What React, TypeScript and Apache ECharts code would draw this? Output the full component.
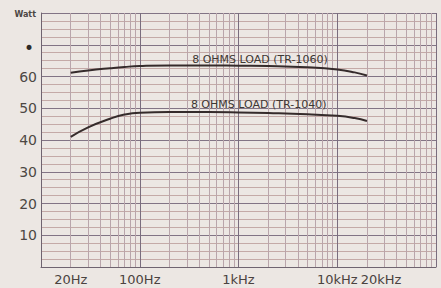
import React, { useEffect, useRef } from "react";
import * as echarts from "echarts";

// Frequency points (Hz) at which the curves were read
const freqs = [20, 30, 50, 70, 100, 200, 500, 1000, 2000, 5000, 10000, 15000, 20000];
// Output power (W) – upper curve
const tr1060 = [61.2, 61.9, 62.6, 63.0, 63.3, 63.5, 63.5, 63.4, 63.3, 62.9, 62.2, 61.3, 60.3];
// Output power (W) – lower curve
const tr1040 = [41.0, 44.0, 46.7, 48.0, 48.6, 48.8, 48.8, 48.7, 48.5, 48.1, 47.6, 46.9, 46.0];

const seriesNames = ["8 OHMS LOAD (TR-1060)", "8 OHMS LOAD (TR-1040)"];

// Log-grid lines (Hz)
const decadeLines = [100, 1000, 10000, 100000];
const minorMultipliers = [2, 3, 4, 5, 6, 7, 8, 9];
const decadeStarts = [10, 100, 1000, 10000];

// X tick labels
const xTickValues = [20, 100, 1000, 10000, 20000];
const xTickLabels = ["20Hz", "100Hz", "1kHz", "10kHz", "20kHz"];

// Y tick labels
const yTickLabels: Record<number, string> = {
  10: "10", 20: "20", 30: "30", 40: "40", 50: "50", 60: "60", 70: "•", 80: "Watt",
};

// label anchors for the curve captions [freq, watts]
const captionAnchors: [number, number][] = [
  [1650, 65.2],
  [1600, 51.3],
];

export default function App() {
  const ref = useRef<HTMLDivElement>(null);

  useEffect(() => {
    if (!ref.current) return;
    const chart = echarts.init(ref.current, undefined, { renderer: "svg" });

    const gridFreqs: number[] = [];
    decadeStarts.forEach((d) => minorMultipliers.forEach((m) => gridFreqs.push(d * m)));

    const lineData: any[] = [];
    gridFreqs.forEach((f) => {
      const idx = xTickValues.indexOf(f);
      lineData.push({
        xAxis: f,
        lineStyle: { color: "#b9a5ab", width: 1, type: "solid" },
        label: idx >= 0 ? { show: true, formatter: xTickLabels[idx], offset: f === 20000 ? [14, 0] : [0, 0] } : { show: false },
      });
    });
    decadeLines.forEach((f) => {
      const idx = xTickValues.indexOf(f);
      lineData.push({
        xAxis: f,
        lineStyle: { color: "#7a6d7e", width: 1, type: "solid" },
        label: idx >= 0 ? { show: true, formatter: xTickLabels[idx] } : { show: false },
      });
    });

    const textColor = "#3e3834";
    const font = "DejaVu Sans";

    chart.setOption({
      animation: false,
      backgroundColor: "#ece7e3",
      grid: { left: 41, right: 5, top: 13, bottom: 21, containLabel: false },
      xAxis: {
        type: "log",
        logBase: 10,
        min: 10,
        max: 100000,
        axisLine: { show: true, lineStyle: { color: "#6f6470", width: 1 } },
        axisTick: { show: false },
        axisLabel: { show: false },
        splitLine: { show: false },
      },
      yAxis: {
        type: "value",
        min: 0,
        max: 80,
        interval: 10,
        axisLine: { show: true, lineStyle: { color: "#6f6470", width: 1 } },
        axisTick: { show: false },
        axisLabel: {
          show: true,
          margin: 4,
          color: "#4d4744",
          fontSize: 14,
          fontFamily: font,
          formatter: (v: number) => {
            if (v === 80) return "{w|Watt}";
            if (v === 70) return "{d|•}";
            return yTickLabels[v] ?? "";
          },
          rich: {
            w: { fontSize: 8, fontWeight: "bold", color: "#4d4744", fontFamily: font, padding: [2, 1, 0, 0] },
            d: { fontSize: 17, color: "#2e2a28", padding: [7, 3, 0, 0] },
          },
        },
        splitLine: { show: true, lineStyle: { color: "#827485", width: 1 } },
        minorTick: { show: false, splitNumber: 4 },
        minorSplitLine: { show: true, lineStyle: { color: "#c4aaa7", width: 1 } },
      },
      series: [
        {
          name: seriesNames[0],
          type: "line",
          smooth: true,
          showSymbol: false,
          data: freqs.map((f, i) => [f, tr1060[i]]),
          lineStyle: { color: "#352b2b", width: 2 },
          z: 5,
          markLine: {
            silent: true,
            symbol: ["none", "none"],
            animation: false,
            z: 1,
            label: {
              position: "start",
              distance: 6,
              color: "#4a4340",
              fontSize: 13,
              fontFamily: font,
            },
            data: lineData,
          },
          markPoint: {
            symbol: "circle",
            symbolSize: 0,
            silent: true,
            label: {
              show: true,
              position: "inside",
              color: textColor,
              fontSize: 11,
              fontFamily: font,
              formatter: seriesNames[0],
            },
            data: [{ coord: captionAnchors[0] }],
          },
        },
        {
          name: seriesNames[1],
          type: "line",
          smooth: true,
          showSymbol: false,
          data: freqs.map((f, i) => [f, tr1040[i]]),
          lineStyle: { color: "#352b2b", width: 2 },
          z: 5,
          markPoint: {
            symbol: "circle",
            symbolSize: 0,
            silent: true,
            label: {
              show: true,
              position: "inside",
              color: textColor,
              fontSize: 11,
              fontFamily: font,
              formatter: seriesNames[1],
            },
            data: [{ coord: captionAnchors[1] }],
          },
        },
      ],
    });

    return () => chart.dispose();
  }, []);

  return (
    <div
      ref={ref}
      style={{ position: "fixed", left: 0, top: 0, width: 441, height: 288, background: "#ece7e3" }}
    />
  );
}
